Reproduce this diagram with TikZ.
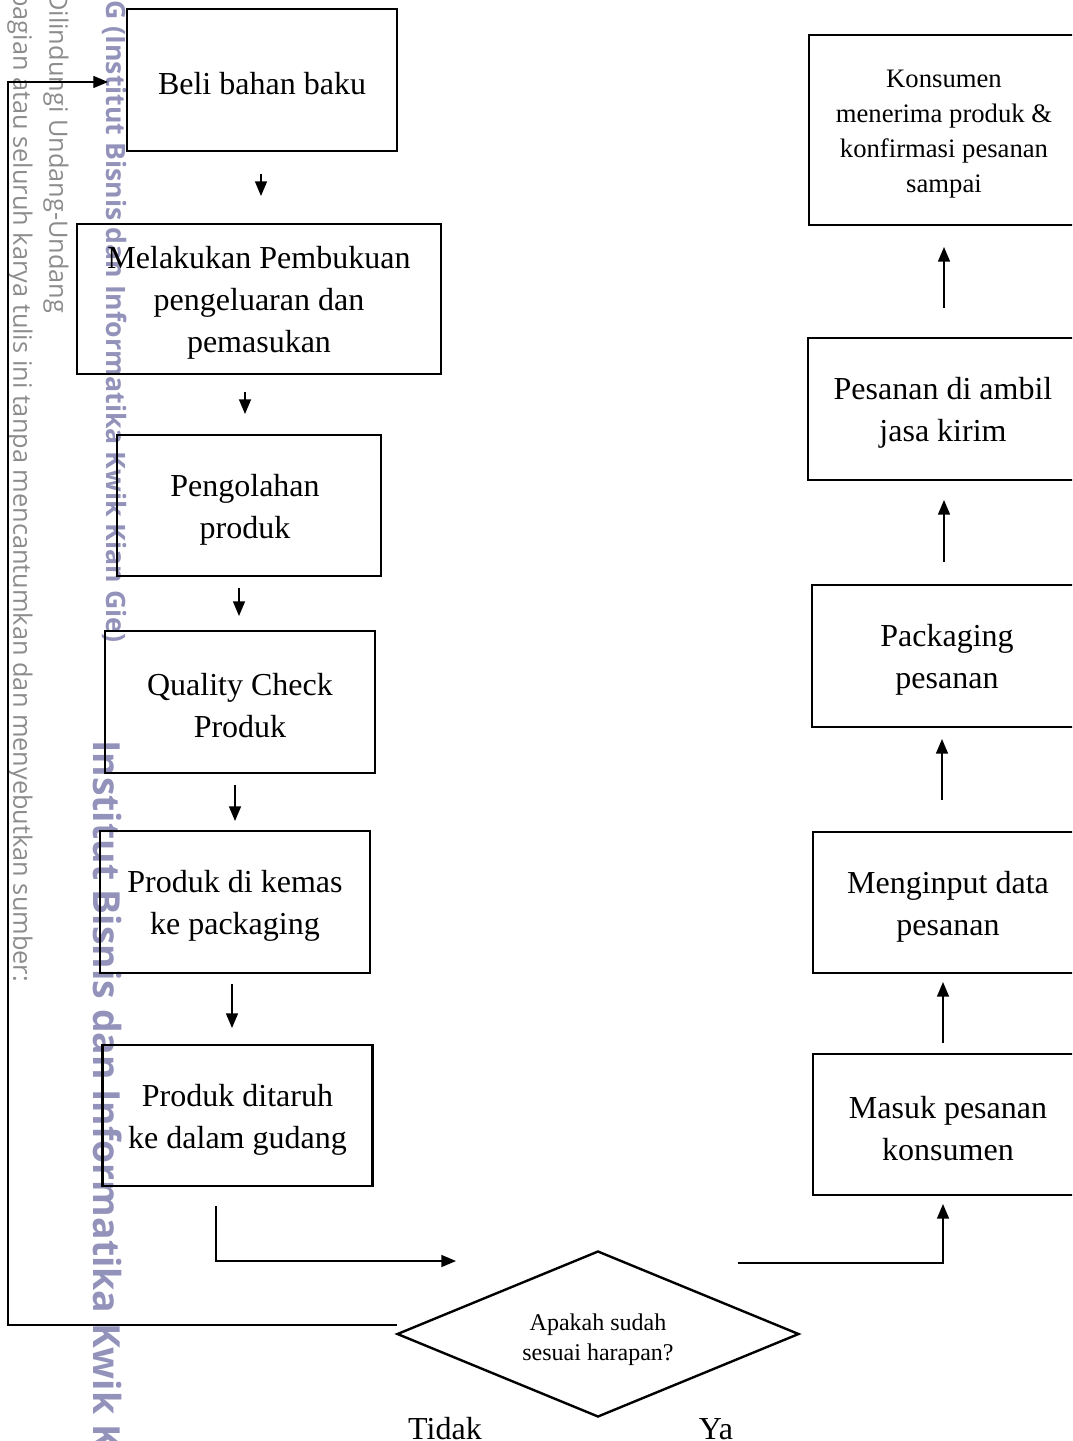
\documentclass[tikz,border=0pt]{standalone}
\usepackage{fontspec}
\setmainfont{Liberation Serif}
\newfontfamily\wmfont{Open Sans}
\usetikzlibrary{shapes.geometric,arrows.meta}
\definecolor{wmlav}{RGB}{146,146,186}
\definecolor{wmgray}{RGB}{140,140,140}
\begin{document}
\begin{tikzpicture}[x=0.75pt,y=-0.75pt,
  box/.style={draw, line width=1.8pt, minimum width=202.5pt, inner sep=0pt},
  txt/.style={inner sep=0pt, yshift=-3pt, align=center, font=\fontsize{24}{31.5}\selectfont},
  arr/.style={line width=1.1pt, -{Triangle[length=11pt,width=9pt]}},
  fbline/.style={line width=0.9pt, -{Triangle[length=11pt,width=9pt]}},
  wmsmall/.style={rotate=-90, anchor=west, inner sep=0pt, text=wmgray, font=\wmfont\fontsize{19}{19}\selectfont},
  wmbold/.style={rotate=-90, anchor=west, inner sep=0pt, text=wmlav, font=\wmfont\bfseries\fontsize{20}{20}\selectfont},
  wmbig/.style={rotate=-90, anchor=west, inner sep=0pt, text=wmlav, font=\wmfont\bfseries\fontsize{28}{28}\selectfont},
  lbl/.style={anchor=base, inner sep=0pt, font=\fontsize{24}{28}\selectfont}]
\useasboundingbox (0,0) rectangle (1072,1441);
\clip (0,0) rectangle (1072,1441);

% watermark
\node[wmsmall] (wm1) at (56,-8) {Dilindungi Undang-Undang};
\node[wmsmall] (wm2) at (20,-9) {bagian atau seluruh karya tulis ini tanpa mencantumkan dan menyebutkan sumber:};
\node[wmbold] (wm3) at (115,0) {G (Institut Bisnis dan Informatika Kwik Kian Gie)};
\node[wmbig] (wm4) at (108,740) {Institut Bisnis dan Informatika Kwik K};

% left column
\node[box, minimum height=106.5pt, label={[txt]center:Beli bahan baku}] (b1) at (262,80) {};
\node[box, minimum width=273pt, minimum height=112.5pt,
  label={[txt]center:{Melakukan Pembukuan\\pengeluaran dan\\pemasukan}}] (b2) at (259,299) {};
\node[box, minimum width=198pt, minimum height=105.75pt,
  label={[txt, xshift=-3pt]center:{Pengolahan\\produk}}] (b3) at (249,505.5) {};
\node[box, minimum height=106.5pt, label={[txt]center:{Quality Check\\Produk}}] (b4) at (240,702) {};
\node[box, minimum height=106.5pt, label={[txt]center:{Produk di kemas\\ke packaging}}] (b5) at (235,902) {};
\node[box, minimum height=105.75pt, label={[txt]center:{Produk ditaruh\\ke dalam gudang}}] (b6) at (237.5,1115.5) {};

% right column
\node[box, minimum height=142.5pt,
  label={[txt, font=\fontsize{20}{26.25}\selectfont]center:{Konsumen\\menerima produk \&\\konfirmasi pesanan\\sampai}}] (r1) at (944,130) {};
\node[box, minimum height=106.5pt, label={[txt]center:{Pesanan di ambil\\jasa kirim}}] (r2) at (943,409) {};
\node[box, minimum height=106.5pt, label={[txt]center:{Packaging\\pesanan}}] (r3) at (947,656) {};
\node[box, minimum height=105.75pt, label={[txt]center:{Menginput data\\pesanan}}] (r4) at (948,902.5) {};
\node[box, minimum height=105.75pt, label={[txt]center:{Masuk pesanan\\konsumen}}] (r5) at (948,1124.5) {};

% decision
\node[diamond, draw, line width=1.8pt, aspect=2.42, minimum width=301.5pt, minimum height=124.5pt, inner sep=0pt,
  label={[txt, yshift=-1pt, font=\fontsize{18}{22.5}\selectfont]center:{Apakah sudah\\sesuai harapan?}}] (d) at (598,1334) {};

\node[lbl] (tidak) at (445,1439) {Tidak};
\node[lbl] (ya) at (716,1439) {Ya};

% arrow end points
\coordinate (a1s) at (261,174); \coordinate (a1e) at (261,196);
\coordinate (a2s) at (245,392); \coordinate (a2e) at (245,414);
\coordinate (a3s) at (239,588); \coordinate (a3e) at (239,616);
\coordinate (a4s) at (235,785); \coordinate (a4e) at (235,821);
\coordinate (a5s) at (232,984); \coordinate (a5e) at (232,1028);
\coordinate (p6) at (216,1206); \coordinate (pd) at (456,1261);
\coordinate (dy) at (738,1263); \coordinate (r5b) at (943,1204);
\coordinate (q4s) at (943,1043); \coordinate (q4e) at (943,982);
\coordinate (q3s) at (942,800); \coordinate (q3e) at (942,739);
\coordinate (q2s) at (944,562); \coordinate (q2e) at (944,500);
\coordinate (q1s) at (944,308); \coordinate (q1e) at (944,247);
\coordinate (fb0) at (397,1325); \coordinate (fb1) at (8,1325);
\coordinate (fb2) at (8,82); \coordinate (fb3) at (108,82);

\draw[arr] (a1s) -- (a1e);
\draw[arr] (a2s) -- (a2e);
\draw[arr] (a3s) -- (a3e);
\draw[arr] (a4s) -- (a4e);
\draw[arr] (a5s) -- (a5e);
\draw[arr] (p6) |- (pd);
\draw[arr] (dy) -| (r5b);
\draw[arr] (q4s) -- (q4e);
\draw[arr] (q3s) -- (q3e);
\draw[arr] (q2s) -- (q2e);
\draw[arr] (q1s) -- (q1e);
\draw[fbline] (fb0) -- (fb1) -- (fb2) -- (fb3);
\end{tikzpicture}
\end{document}
